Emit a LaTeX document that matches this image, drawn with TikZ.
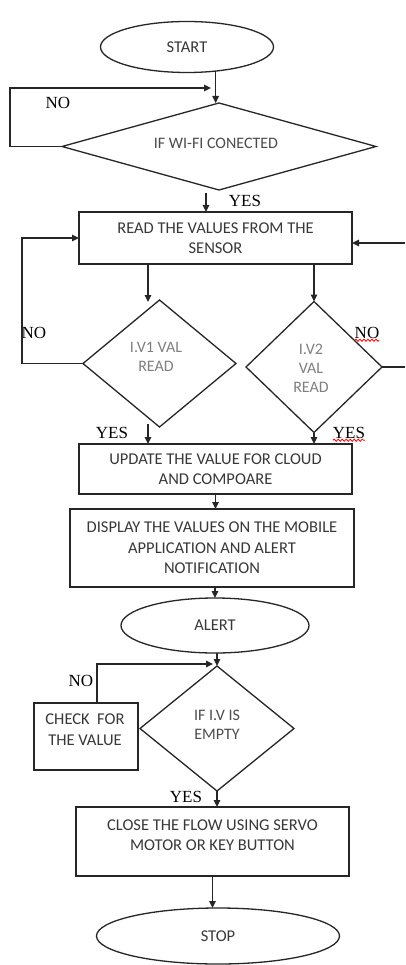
\documentclass[tikz,border=0pt]{standalone}
\usepackage{fontspec}
\setmainfont{Carlito}
\newfontfamily\lblfont{Liberation Serif}
\usetikzlibrary{shapes.geometric,arrows.meta,decorations.pathmorphing}
\begin{document}
\begin{tikzpicture}[x=1pt,y=-1pt,
  every node/.style={inner sep=0pt, outer sep=0pt},
  line/.style={draw=black!85, line width=1.3pt},
  arr/.style={line, -{Triangle[length=7pt,width=6.5pt]}},
  btext/.style={font=\fontsize{16.5}{20.5}\selectfont, text=black!78, align=center},
  dtext/.style={font=\fontsize{16}{19}\selectfont, align=center},
  procbox/.style={line, rectangle, btext},
  oval/.style={line, ellipse, btext},
  dia/.style={line, diamond},
  lbl/.style={font=\lblfont\fontsize{17}{19}\selectfont, text=black},
  squiggle/.style={draw=red, line width=0.8pt, decorate, decoration={snake, segment length=4pt, amplitude=1.1pt}}
]
\useasboundingbox (0,0) rectangle (405,965);
\fill[white] (0,0) rectangle (405,965);

% ---------- shapes ----------
\node[oval, minimum width=173pt, minimum height=51pt] (start) at (187,47) {START};

\node[dia, minimum width=314pt, minimum height=87pt] (wifi) at (219,146.5) {};
\node[dtext, text=black!70] (wifitxt) at (216,143) {IF WI-FI CONECTED};

\node[procbox, minimum width=273pt, minimum height=52pt] (read) at (215.5,238)
  {READ THE VALUES FROM THE\\SENSOR};

\node[dia, minimum width=153pt, minimum height=127pt] (iv1) at (159.5,363.5) {};
\node[dtext, text=black!50] (iv1txt) at (156,357) {I.V1 VAL\\READ};

\node[dia, minimum width=136pt, minimum height=131pt] (iv2) at (314,367) {};
\node[dtext, text=black!50] (iv2txt) at (311,368) {I.V2\\VAL\\READ};

\node[procbox, minimum width=273pt, minimum height=50pt] (update) at (215.5,469)
  {UPDATE THE VALUE FOR CLOUD\\AND COMPOARE};

\node[procbox, minimum width=284pt, minimum height=78pt] (display) at (212,548)
  {DISPLAY THE VALUES ON THE MOBILE\\APPLICATION AND ALERT\\NOTIFICATION};

\node[oval, minimum width=188pt, minimum height=55pt] (alert) at (215,625.5) {ALERT};

\node[dia, minimum width=154pt, minimum height=125pt] (empty) at (217,728.5) {};
\node[dtext, text=black!70] (emptytxt) at (217,724.5) {IF I.V IS\\EMPTY};

\node[line, rectangle, minimum width=104pt, minimum height=67pt] (check) at (86,736.5) {};
\node[btext] (checktxt) at (85,729.5) {CHECK\ \ FOR\\THE VALUE};

\node[line, rectangle, minimum width=273pt, minimum height=69pt] (close) at (212.5,841.5) {};
\node[btext] (closetxt) at (212.5,835) {CLOSE THE FLOW USING SERVO\\MOTOR OR KEY BUTTON};

\node[oval, minimum width=243pt, minimum height=56pt] (stop) at (218,936) {STOP};

% ---------- labels ----------
\node[lbl] (no1) at (58,103) {NO};
\node[lbl] (yes1) at (245,201) {YES};
\node[lbl] (no2) at (34,333) {NO};
\node[lbl] (no3) at (367,333) {NO};
\node[lbl] (yes2) at (112,433) {YES};
\node[lbl] (yes3) at (349,433) {YES};
\node[lbl] (no4) at (81,681) {NO};
\node[lbl] (yes4) at (186,797) {YES};

\draw[squiggle] ([yshift=-1.5pt]no3.south west) -- ([yshift=-1.5pt]no3.south east);
\draw[squiggle] ([yshift=-1.5pt]yes3.south west) -- ([yshift=-1.5pt]yes3.south east);

% ---------- helper coordinates ----------
\coordinate (loopL) at (10,0);
\coordinate (wifiin) at (211,88);
\coordinate (yesA) at (206,193);
\coordinate (c148) at (148,0);
\coordinate (lx) at (22,0);
\coordinate (redge) at (405,0);
\coordinate (rin) at (405,243);
\coordinate (b1) at (148,424);
\coordinate (cx) at (97,0);
\coordinate (emptyin) at (213,664);

% ---------- connectors ----------
\draw[arr] (start.-40) -- (start.-40 |- wifi.north);
\draw[arr] (wifi.west) -- (wifi.west -| loopL) |- (wifiin);
\draw[arr] (yesA) -- (yesA |- read.north);

\draw[arr] (read.south -| c148) -- (148,302);
\draw[arr] (read.south -| iv2.north) -- (iv2.north);

\draw[arr] (iv1.west) -- (iv1.west -| lx) |- (read.west);
\draw[line] (iv2.east) -- (iv2.east -| redge);
\draw[arr] (rin) -- (rin -| read.east);

\draw[arr] (b1) -- (b1 |- update.north);
\draw[arr] (iv2.south) -- (iv2.south |- update.north);

\draw[arr] (update.south) -- (update.south |- display.north);
\draw[arr] (alert.north |- display.south) -- (alert.north);
\draw[arr] (empty.north |- alert.south) -- (empty.north);

\draw[arr] (check.north -| cx) |- (emptyin);
\draw[arr] (empty.south) -- (empty.south |- close.north);
\draw[arr] (close.south) -- (close.south |- stop.north);
\end{tikzpicture}
\end{document}
